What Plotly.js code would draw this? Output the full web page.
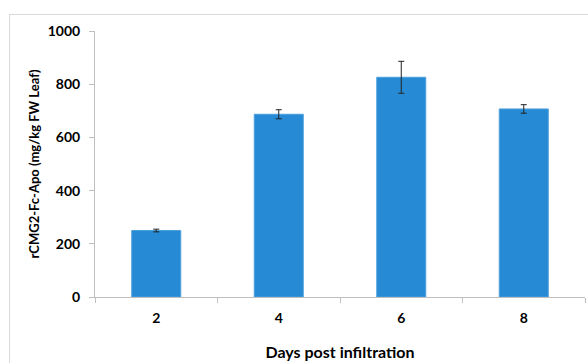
<!DOCTYPE html>
<html><head><meta charset="utf-8">
<script src="https://cdn.plot.ly/plotly-3.0.1.min.js"></script>
<style>
html,body{margin:0;padding:0;background:#fff;}
#frame{position:absolute;left:9px;top:14px;width:590px;height:360px;border:1px solid #d9d9d9;box-sizing:border-box;}
#chart{position:absolute;left:0;top:0;width:588px;height:363px;}
</style></head>
<body>
<div id="frame"></div>
<div id="chart"></div>
<script>
const days = ['2','4','6','8'];
const values = [250, 687, 826, 707];
const errors = [5, 17, 60, 16];
const yTicks = [0, 200, 400, 600, 800, 1000];

const fontFam = 'Lato, "Open Sans", sans-serif';
Plotly.newPlot('chart', [{
  type: 'bar',
  x: days,
  y: values,
  marker: {color: '#268ad5', line: {color: '#4b9fdd', width: 1}},
  error_y: {type: 'data', array: errors, visible: true, color: '#222', thickness: 1, width: 3},
  hoverinfo: 'none'
}], {
  width: 588, height: 363,
  margin: {l: 95, r: 3, t: 31, b: 66},
  paper_bgcolor: 'rgba(0,0,0,0)',
  plot_bgcolor: 'rgba(0,0,0,0)',
  bargap: 0.6,
  showlegend: false,
  xaxis: {
    type: 'category',
    showline: true, linecolor: '#bfbfbf', linewidth: 1,
    ticks: 'outside', tickson: 'boundaries', ticklen: 5, tickcolor: '#bfbfbf',
    ticklabelstandoff: 8,
    showgrid: false, zeroline: false,
    tickfont: {family: fontFam, size: 14, color: '#000', weight: 'bold'},
    title: {text: '<b>Days post infiltration</b>', font: {family: fontFam, size: 16, color: '#000'}, standoff: 22}
  },
  yaxis: {
    range: [0, 1000],
    tickvals: yTicks,
    showline: true, linecolor: '#bfbfbf', linewidth: 1,
    ticks: 'outside', ticklen: 5, tickcolor: '#bfbfbf',
    ticklabelstandoff: 6,
    showgrid: false, zeroline: false,
    tickfont: {family: fontFam, size: 14, color: '#000', weight: 'bold'},
    title: {text: '<b>rCMG2-Fc-Apo (mg/kg FW Leaf)</b>', font: {family: fontFam, size: 13, color: '#000'}, standoff: 5}
  }
}, {staticPlot: true});
</script>
</body></html>
